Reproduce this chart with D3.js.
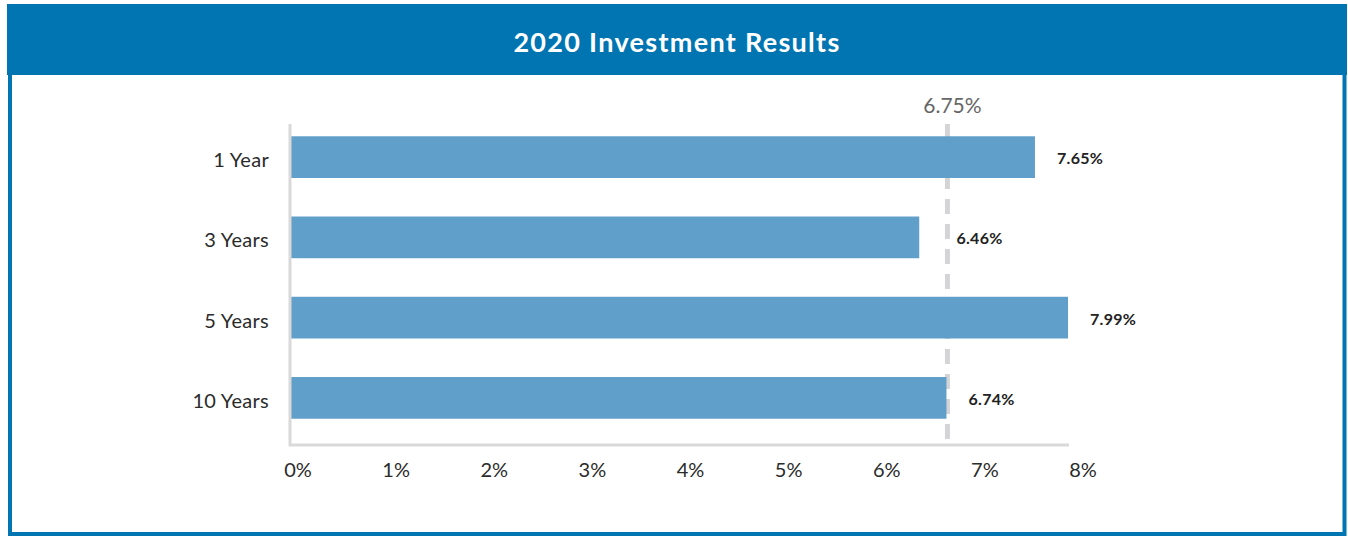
<!DOCTYPE html>
<html>
<head>
<meta charset="utf-8">
<script src="https://d3js.org/d3.v7.min.js"></script>
<style>
  body { margin: 0; background: #fff; }
  text { font-family: Lato, "Open Sans", sans-serif; }
</style>
</head>
<body>
<svg id="chart"></svg>
<script>
    // data
    var categories = ["1 Year", "3 Years", "5 Years", "10 Years"];
    var returns = [7.65, 6.46, 7.99, 6.74];
    var target = 6.75;
    var tickValues = [0, 1, 2, 3, 4, 5, 6, 7, 8];
    var title = "2020 Investment Results";

    var W = 1348, H = 536;
    var blue = "#0075b2", barColor = "#619fcb", axisGrey = "#d9d9d9";

    var svg = d3.select("#chart").attr("width", W).attr("height", H);

    // frame + header
    svg.append("rect")
        .attr("x", 10).attr("y", 6)
        .attr("width", 1334.5).attr("height", 528)
        .attr("fill", "#fff")
        .attr("stroke", blue).attr("stroke-width", 4);
    svg.append("rect")
        .attr("x", 7).attr("y", 4)
        .attr("width", 1340).attr("height", 71)
        .attr("fill", blue);
    svg.append("text")
        .attr("x", 677).attr("y", 52)
        .attr("text-anchor", "middle")
        .attr("fill", "#fff")
        .style("font-size", "27px").style("font-weight", "bold")
        .style("letter-spacing", "1.3px")
        .text(title);

    var x = d3.scaleLinear().domain([0, 8]).range([291, 1069]);
    // tick labels sit slightly to the right of the bar scale in the original
    var xLabel = d3.scaleLinear().domain([0, 8]).range([298, 1083]);
    var y = d3.scaleBand().domain(categories).range([117, 438]).paddingInner(0.48).paddingOuter(0.24);

    // bars
    svg.selectAll(".bar")
        .data(returns)
        .enter().append("rect")
        .attr("class", "bar")
        .attr("x", x(0))
        .attr("y", (d, i) => y(categories[i]))
        .attr("width", d => x(d) - x(0))
        .attr("height", y.bandwidth())
        .attr("fill", barColor);

    // target line (drawn under bars)
    svg.insert("line", ".bar")
        .attr("x1", x(target)).attr("x2", x(target))
        .attr("y1", 124).attr("y2", 445)
        .attr("stroke", "#d4d4d6").attr("stroke-width", 5)
        .attr("stroke-dasharray", "15,10");
    svg.append("text")
        .attr("x", x(target) + 5).attr("y", 113)
        .attr("text-anchor", "middle")
        .attr("fill", "#666")
        .style("font-size", "21px")
        .text(target.toFixed(2) + "%");

    // axis lines
    svg.append("line")
        .attr("x1", 290).attr("x2", 290)
        .attr("y1", 124).attr("y2", 446)
        .attr("stroke", axisGrey).attr("stroke-width", 3);
    svg.append("line")
        .attr("x1", 289).attr("x2", x(8))
        .attr("y1", 445).attr("y2", 445)
        .attr("stroke", axisGrey).attr("stroke-width", 3);

    // category labels
    svg.selectAll(".cat")
        .data(categories)
        .enter().append("text")
        .attr("class", "cat")
        .attr("x", 269)
        .attr("y", d => y(d) + y.bandwidth() / 2 + 10)
        .attr("text-anchor", "end")
        .attr("fill", "#2b2b2b")
        .style("font-size", "20px")
        .style("letter-spacing", "0.3px")
        .text(d => d);

    // value labels, nudged past the target line where needed
    svg.selectAll(".val")
        .data(returns)
        .enter().append("text")
        .attr("class", "val")
        .attr("x", d => Math.max(x(d) + 22, x(target) + 9))
        .attr("y", (d, i) => y(categories[i]) + y.bandwidth() / 2 + 7)
        .attr("fill", "#222")
        .style("font-size", "16px").style("font-weight", "bold")
        .style("letter-spacing", "0.3px")
        .text(d => d.toFixed(2) + "%");

    // x tick labels
    svg.selectAll(".tick")
        .data(tickValues)
        .enter().append("text")
        .attr("class", "tick")
        .attr("x", d => xLabel(d))
        .attr("y", 477)
        .attr("text-anchor", "middle")
        .attr("fill", "#2b2b2b")
        .style("font-size", "20px")
        .text(d => d + "%");
</script>
</body>
</html>
